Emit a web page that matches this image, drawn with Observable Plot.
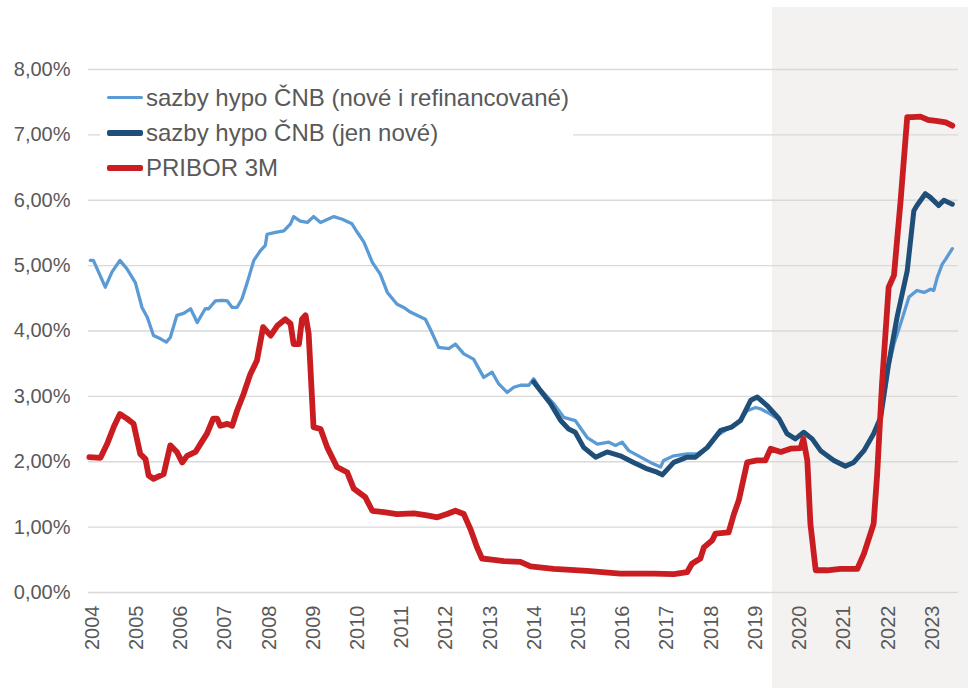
<!DOCTYPE html>
<html>
<head>
<meta charset="utf-8">
<script src="https://cdn.jsdelivr.net/npm/d3@7"></script>
<script src="https://cdn.jsdelivr.net/npm/@observablehq/plot@0.6"></script>
<style>
  html, body { margin: 0; padding: 0; background: #fff; }
  #wrap { position: relative; width: 968px; height: 688px; overflow: hidden; font-family: "Liberation Sans", Arial, sans-serif; }
  #legend { position: absolute; left: 100px; top: 80px; width: 473px; background: #fff; }
  .row { display: flex; align-items: center; height: 35px; }
  .sw { width: 36px; margin-left: 7px; margin-right: 3px; border-radius: 2px; }
  .lab { font-size: 24px; color: #595959; white-space: nowrap; line-height: 35px; }
</style>
</head>
<body>
<div id="wrap"><div id="chart"></div><div id="legend"></div></div>
<script>
// Series names and colours
const seriesNames = ["sazby hypo ČNB (nové i refinancované)", "sazby hypo ČNB (jen nové)", "PRIBOR 3M"];
const seriesColors = ["#5b9bd5", "#1f4e79", "#c91d22"];
const seriesWidths = [3.3, 5, 5.8];

// X tick labels (years) and y ticks (%)
const yearTicks = [2004,2005,2006,2007,2008,2009,2010,2011,2012,2013,2014,2015,2016,2017,2018,2019,2020,2021,2022,2023];
const yTicks = [0,1,2,3,4,5,6,7,8];
const xDomain = [2003.98, 2023.66];
const shadeFrom = [2019.45];

// Series 1: sazby hypo ČNB (nové i refinancované)
const hypoAllYears = [2004.02,2004.09,2004.36,2004.51,2004.69,2004.85,2005.04,2005.19,2005.31,2005.45,2005.61,2005.74,2005.83,2005.98,2006.13,2006.29,2006.44,2006.62,2006.70,2006.85,2007.00,2007.12,2007.23,2007.34,2007.45,2007.57,2007.72,2007.87,2007.98,2008.02,2008.21,2008.40,2008.55,2008.62,2008.77,2008.93,2009.07,2009.23,2009.53,2009.72,2009.94,2010.06,2010.21,2010.40,2010.58,2010.74,2010.96,2011.11,2011.26,2011.41,2011.60,2011.71,2011.90,2012.13,2012.28,2012.47,2012.69,2012.92,2013.11,2013.26,2013.45,2013.60,2013.75,2013.94,2014.05,2014.20,2014.50,2014.73,2014.99,2015.26,2015.49,2015.75,2015.90,2016.05,2016.20,2016.47,2016.69,2016.92,2016.99,2017.22,2017.52,2017.75,2017.98,2018.20,2018.43,2018.65,2018.88,2019.07,2019.18,2019.41,2019.60,2019.78,2019.97,2020.16,2020.35,2020.54,2020.84,2021.10,2021.29,2021.52,2021.74,2021.90,2022.08,2022.20,2022.35,2022.54,2022.72,2022.88,2023.03,2023.10,2023.18,2023.29,2023.37,2023.52];
const hypoAllValues = [5.08,5.08,4.67,4.90,5.08,4.95,4.74,4.36,4.21,3.93,3.88,3.83,3.90,4.24,4.27,4.34,4.13,4.34,4.34,4.46,4.47,4.46,4.36,4.36,4.49,4.74,5.08,5.23,5.31,5.48,5.51,5.53,5.64,5.75,5.68,5.66,5.75,5.66,5.75,5.71,5.64,5.51,5.36,5.05,4.87,4.59,4.41,4.36,4.29,4.24,4.18,4.03,3.75,3.73,3.80,3.65,3.57,3.29,3.37,3.19,3.06,3.14,3.17,3.17,3.27,3.11,2.89,2.68,2.63,2.37,2.27,2.30,2.25,2.30,2.17,2.07,1.99,1.92,2.02,2.09,2.12,2.12,2.22,2.40,2.50,2.58,2.78,2.83,2.81,2.73,2.64,2.42,2.35,2.44,2.35,2.17,2.03,1.95,2.00,2.17,2.43,2.68,3.45,3.80,4.11,4.52,4.62,4.59,4.64,4.62,4.82,5.02,5.10,5.26];

// Series 2: sazby hypo ČNB (jen nové)
const hypoNewYears = [2014.05,2014.20,2014.43,2014.66,2014.84,2014.99,2015.18,2015.45,2015.71,2016.01,2016.31,2016.62,2016.84,2016.96,2017.22,2017.52,2017.71,2017.98,2018.28,2018.53,2018.73,2018.96,2019.11,2019.33,2019.60,2019.78,2019.97,2020.16,2020.35,2020.54,2020.84,2021.10,2021.29,2021.52,2021.74,2021.90,2022.08,2022.27,2022.50,2022.65,2022.72,2022.91,2023.03,2023.21,2023.33,2023.52];
const hypoNewValues = [3.22,3.09,2.89,2.63,2.50,2.45,2.22,2.07,2.15,2.09,1.99,1.89,1.84,1.80,1.99,2.07,2.07,2.22,2.48,2.53,2.63,2.94,2.99,2.86,2.66,2.43,2.35,2.45,2.35,2.17,2.02,1.93,1.99,2.17,2.43,2.68,3.50,4.21,4.92,5.84,5.92,6.10,6.04,5.92,6.00,5.94];

// Series 3: PRIBOR 3M
const priborYears = [2004.00,2004.25,2004.40,2004.55,2004.69,2004.85,2005.00,2005.15,2005.27,2005.34,2005.45,2005.68,2005.83,2005.98,2006.10,2006.21,2006.40,2006.51,2006.66,2006.80,2006.89,2006.96,2007.12,2007.23,2007.34,2007.49,2007.64,2007.79,2007.93,2008.10,2008.25,2008.43,2008.55,2008.62,2008.74,2008.81,2008.89,2008.96,2009.07,2009.23,2009.38,2009.60,2009.83,2009.98,2010.24,2010.40,2010.66,2010.96,2011.34,2011.64,2011.87,2012.09,2012.28,2012.47,2012.62,2012.77,2012.88,2013.15,2013.37,2013.75,2013.98,2014.50,2015.26,2016.01,2016.77,2017.22,2017.52,2017.63,2017.82,2017.90,2018.09,2018.16,2018.46,2018.58,2018.69,2018.88,2019.10,2019.29,2019.41,2019.64,2019.86,2020.09,2020.15,2020.24,2020.31,2020.43,2020.69,2020.99,2021.37,2021.52,2021.74,2021.82,2021.93,2022.08,2022.20,2022.35,2022.50,2022.61,2022.80,2022.97,2023.19,2023.37,2023.52];
const priborValues = [2.07,2.06,2.27,2.53,2.73,2.66,2.58,2.12,2.04,1.79,1.74,1.81,2.25,2.15,1.99,2.09,2.15,2.27,2.43,2.66,2.66,2.55,2.58,2.55,2.78,3.04,3.34,3.55,4.06,3.93,4.08,4.18,4.11,3.80,3.80,4.18,4.24,3.96,2.53,2.50,2.22,1.92,1.84,1.59,1.46,1.25,1.23,1.20,1.21,1.18,1.15,1.20,1.25,1.20,0.97,0.69,0.52,0.50,0.48,0.47,0.40,0.36,0.33,0.29,0.29,0.28,0.31,0.44,0.52,0.69,0.80,0.90,0.92,1.20,1.41,1.99,2.02,2.02,2.20,2.15,2.20,2.21,2.35,2.02,1.05,0.34,0.34,0.36,0.36,0.59,1.05,1.81,3.19,4.67,4.85,5.99,7.27,7.27,7.28,7.23,7.21,7.19,7.14];

const toRows = (xs, ys) => xs.map((x, i) => ({x, y: ys[i]}));
const hypoAll = toRows(hypoAllYears, hypoAllValues);
const hypoNew = toRows(hypoNewYears, hypoNewValues);
const pribor = toRows(priborYears, priborValues);

const fmtPct = d => d.toFixed(2).replace(".", ",") + "%";

const chart = Plot.plot({
  width: 968,
  height: 688,
  marginTop: 69,
  marginBottom: 96,
  marginLeft: 88,
  marginRight: 10,
  style: { fontFamily: '"Liberation Sans", Arial, sans-serif', fontSize: "20px", color: "#595959", background: "transparent" },
  x: { type: "linear", domain: xDomain },
  y: { domain: [0, 8] },
  marks: [
    Plot.rect(shadeFrom, { x1: d => d, x2: () => xDomain[1], y1: () => 0, y2: () => 8, fill: "#f3f2f1", insetTop: -62, insetBottom: -96, insetRight: -10 }),
    Plot.ruleY(yTicks, { stroke: "#d9d9d9", strokeWidth: 1.4 }),
    Plot.line(hypoAll, { x: "x", y: "y", stroke: seriesColors[0], strokeWidth: seriesWidths[0], strokeLinejoin: "round", strokeLinecap: "round" }),
    Plot.line(hypoNew, { x: "x", y: "y", stroke: seriesColors[1], strokeWidth: seriesWidths[1], strokeLinejoin: "round", strokeLinecap: "round" }),
    Plot.line(pribor, { x: "x", y: "y", stroke: seriesColors[2], strokeWidth: seriesWidths[2], strokeLinejoin: "round", strokeLinecap: "round" }),
    Plot.axisY({ ticks: yTicks, tickSize: 0, tickPadding: 18, tickFormat: fmtPct, label: null, fontSize: 20 }),
    Plot.axisX({ ticks: yearTicks, tickSize: 0, tickPadding: 13, tickRotate: -90, tickFormat: d => String(d), label: null, fontSize: 20, dx: 3 })
  ]
});
document.getElementById("chart").appendChild(chart);

// Legend
const legend = document.getElementById("legend");
seriesNames.forEach((name, i) => {
  const row = document.createElement("div");
  row.className = "row";
  const sw = document.createElement("div");
  sw.className = "sw";
  sw.style.background = seriesColors[i];
  sw.style.height = (i === 0 ? 3.5 : 6) + "px";
  const lab = document.createElement("span");
  lab.className = "lab";
  lab.textContent = name;
  row.appendChild(sw);
  row.appendChild(lab);
  legend.appendChild(row);
});
</script>
</body>
</html>
